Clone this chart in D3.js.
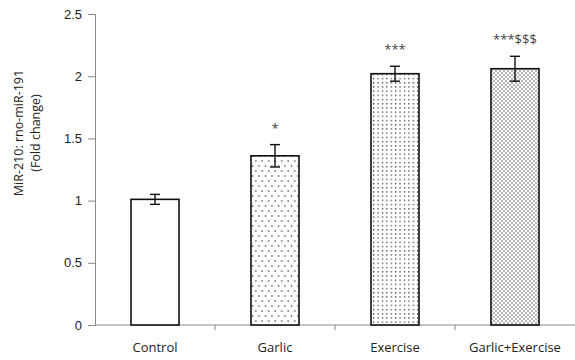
<!DOCTYPE html>
<html>
<head>
<meta charset="utf-8">
<script src="https://cdn.jsdelivr.net/npm/d3@7"></script>
<style>
  body { margin: 0; background: #fff; }
  svg { font-family: "Open Sans", "Liberation Sans", sans-serif; }
</style>
</head>
<body>
<svg id="chart" width="575" height="360"></svg>
<script>
const groups = ["Control", "Garlic", "Exercise", "Garlic+Exercise"];
const means = [1.01, 1.36, 2.02, 2.06];
const errors = [0.04, 0.09, 0.06, 0.10];
const marks = ["", "*", "***", "***$$$"];
const patterns = ["none", "dotsSparse", "dotsMedium", "dotsDense"];
const yTicks = [0, 0.5, 1, 1.5, 2, 2.5];

const svg = d3.select("#chart");
const padding = { top: 14, right: 0, bottom: 35, left: 95 };
const chartArea = { width: 575 - padding.left - padding.right, height: 360 - padding.top - padding.bottom };

// fill patterns
const defs = svg.append("defs");
const addDots = (id, w, h, pts, r) => {
  const p = defs.append("pattern").attr("id", id).attr("patternUnits", "userSpaceOnUse")
    .attr("width", w).attr("height", h);
  p.append("rect").attr("width", w).attr("height", h).attr("fill", "#fff");
  pts.forEach(([cx, cy]) => p.append("circle").attr("cx", cx).attr("cy", cy).attr("r", r).attr("fill", "#333"));
};
addDots("dotsSparse", 6.5, 10, [[1.5, 2], [4.75, 7]], 0.8);
addDots("dotsMedium", 4.4, 4.2, [[1.5, 1.5]], 0.75);
addDots("dotsDense", 4, 4, [[1, 1], [3, 3]], 0.7);

const yScale = d3.scaleLinear().domain([0, 2.5]).range([chartArea.height, 0]);
const xScale = d3.scaleBand().domain(groups).range([0, chartArea.width])
  .paddingInner(0.6).paddingOuter(0.3);

const g = svg.append("g").attr("transform", `translate(${padding.left},${padding.top})`);

// y axis
const yAxis = g.append("g").call(d3.axisLeft(yScale).tickValues(yTicks)
  .tickFormat(d3.format("")).tickSize(7).tickPadding(6));
yAxis.select(".domain").attr("stroke", "#888");
yAxis.selectAll(".tick line").attr("stroke", "#888");
yAxis.selectAll(".tick text").attr("font-size", 13).attr("fill", "#222");

// x axis with boundary ticks
const step = xScale.step();
const x0 = xScale(groups[0]) - xScale.paddingOuter() * step;
const xAxis = g.append("g").attr("transform", `translate(0,${chartArea.height})`);
xAxis.append("line").attr("x1", 0).attr("x2", chartArea.width).attr("stroke", "#888");
groups.forEach((d, i) => {
  if (i === 0) return;
  const bx = x0 + i * step;
  xAxis.append("line").attr("x1", bx).attr("x2", bx).attr("y1", 0).attr("y2", 5).attr("stroke", "#888");
});
xAxis.selectAll("text.cat").data(groups).join("text")
  .attr("class", "cat")
  .attr("x", d => xScale(d) + xScale.bandwidth() / 2)
  .attr("y", 27)
  .attr("text-anchor", "middle")
  .attr("font-size", 13)
  .attr("fill", "#222")
  .text(d => d);

// bars
g.selectAll("rect.bar").data(groups).join("rect")
  .attr("class", "bar")
  .attr("x", d => xScale(d))
  .attr("y", (d, i) => yScale(means[i]))
  .attr("width", xScale.bandwidth())
  .attr("height", (d, i) => chartArea.height - yScale(means[i]))
  .attr("fill", (d, i) => patterns[i] === "none" ? "#fff" : `url(#${patterns[i]})`)
  .attr("stroke", "#111")
  .attr("stroke-width", 1.6);

// error bars
const cap = 5;
groups.forEach((d, i) => {
  const cx = xScale(d) + xScale.bandwidth() / 2;
  const yt = yScale(means[i] + errors[i]);
  const yb = yScale(means[i] - errors[i]);
  const eg = g.append("g").attr("stroke", "#111").attr("stroke-width", 1.4);
  eg.append("line").attr("x1", cx).attr("x2", cx).attr("y1", yt).attr("y2", yb);
  eg.append("line").attr("x1", cx - cap).attr("x2", cx + cap).attr("y1", yt).attr("y2", yt);
  eg.append("line").attr("x1", cx - cap).attr("x2", cx + cap).attr("y1", yb).attr("y2", yb);
  if (marks[i]) {
    g.append("text")
      .attr("x", cx)
      .attr("y", yt - 12)
      .attr("text-anchor", "middle")
      .attr("font-size", 13)
      .attr("fill", "#444")
      .text(marks[i]);
  }
});

// y label
svg.append("text")
  .attr("transform", `translate(23,133) rotate(-90)`)
  .attr("text-anchor", "middle")
  .attr("font-size", 12.5)
  .attr("fill", "#222")
  .selectAll("tspan").data(["MiR-210: rno-miR-191", "(Fold change)"]).join("tspan")
  .attr("x", 0)
  .attr("dy", (d, i) => i === 0 ? 0 : 17)
  .text(d => d);
</script>
</body>
</html>
